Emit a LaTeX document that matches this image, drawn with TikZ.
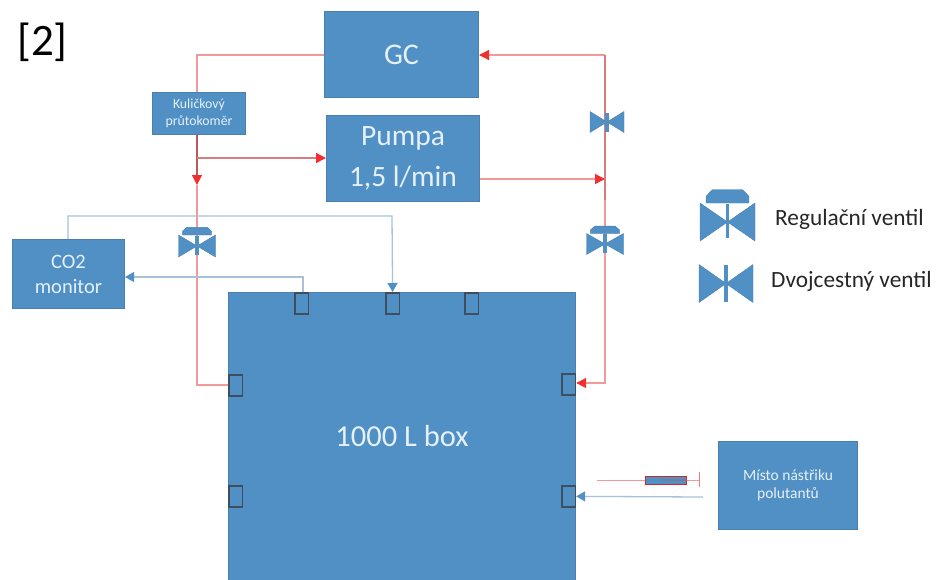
\documentclass[tikz,border=0pt]{standalone}
\usepackage{fontspec}
\setmainfont{Carlito}
\usetikzlibrary{arrows.meta}
\definecolor{bfill}{HTML}{5090C5}
\definecolor{bedge}{HTML}{4A80AE}
\definecolor{redl}{HTML}{F29A9A}
\definecolor{redd}{HTML}{B85A5A}
\definecolor{redm}{HTML}{D97B7B}
\definecolor{redh}{HTML}{F03030}
\definecolor{bluel}{HTML}{A8C0D8}
\definecolor{txtw}{HTML}{E6F0F8}
\definecolor{portc}{HTML}{3E4E5E}
\newcommand{\fs}[2]{\fontsize{#1}{#2}\selectfont}
\tikzset{
  x=1pt,y=-1pt,
  block/.style={draw=bedge,line width=1pt,fill=bfill,text=txtw,align=center,inner sep=0pt,anchor=north west},
  port/.style={draw=portc,line width=1.7pt,fill=none,inner sep=0pt,anchor=north west,minimum width=13.5pt,minimum height=21pt},
  redline/.style={draw=redl,line width=1.3pt},
  darkline/.style={draw=redd,line width=1.3pt},
  midline/.style={draw=redm,line width=1.4pt},
  blueline/.style={draw=bluel,line width=1.3pt},
  redarrow/.style={-{Triangle[length=10pt,width=10pt,color=redh]}},
  bluearrow/.style={-{Triangle[length=9pt,width=10pt,color=bfill]}},
  legend/.style={text=black!85,inner sep=0pt,anchor=west},
  valveshape/.style={fill=bfill,draw=bedge,line width=.4pt},
  pics/wings/.style n args={3}{code={
    \path[valveshape] (-#1,-#2) -- (0,0) -- (-#1,#2) -- cycle;
    \path[valveshape] (#1,-#2) -- (0,0) -- (#1,#2) -- cycle;
    \fill[bfill] (-1.7,-#3) rectangle (1.7,#3);
  }},
  pics/capped/.style n args={2}{code={
    \path[valveshape] (-#1,-#2) -- (0,0) -- (-#1,#2) -- cycle;
    \path[valveshape] (#1,-#2) -- (0,0) -- (#1,#2) -- cycle;
    \fill[bfill] (-1.7,-#2*.95) rectangle (1.7,#2*.85);
    \path[valveshape] (-#1*.78,-#2*1.0) -- (-#1*.78,-#2*1.35) -- (-#1*.55,-#2*1.7) -- (#1*.55,-#2*1.7) -- (#1*.78,-#2*1.35) -- (#1*.78,-#2*1.0) -- cycle;
  }}
}
\begin{document}
\begin{tikzpicture}
\useasboundingbox (0,0) rectangle (937,579);
\node[text=black,inner sep=0pt,anchor=center,font=\fs{45}{50}] (ref) at (42.5,42) {[2]};
% blocks
\node[block,minimum width=154pt,minimum height=86pt,font=\fs{30}{36}] (gc) at (324,11) {GC};
\node[block,minimum width=153pt,minimum height=86pt,font=\fs{29.5}{41}] (pump) at (326,115) {Pumpa\\1,5 l/min};
\node[block,minimum width=93pt,minimum height=42pt,font=\fs{13.8}{16.5}] (flow) at (152,92) {Kuličkový\\průtokoměr};
\node[block,minimum width=112pt,minimum height=69pt,font=\fs{20.5}{25}] (co2) at (12,239) {CO2\\monitor};
\path[fill=bfill,draw=bedge,line width=.8pt] (228,292) rectangle (575,582);
\node[text=txtw,inner sep=0pt,font=\fs{30.5}{36}] (box) at (402,436) {1000 L box};
\node[block,minimum width=139pt,minimum height=88pt,font=\fs{15.5}{18.5}] (inj) at (718,441) {Místo nástřiku\\polutantů};
% ports
\node[port] (pt1) at (294,292) {};
\node[port] (pt2) at (385,292) {};
\node[port] (pt3) at (464,292) {};
\node[port] (pl1) at (228,374) {};
\node[port] (pl2) at (228,485) {};
\node[port] (pr1) at (561,373) {};
\node[port] (pr2) at (561,485) {};
% junctions
\coordinate (j1) at (197,158);
\coordinate (j2) at (197,185);
\coordinate (j3) at (605,200);
\coordinate (j4) at (605,179);
\coordinate (jg) at (605,55);
\coordinate (ja) at (197,55);
\coordinate (jb) at (197,385);
\coordinate (jc) at (605,383);
\coordinate (bb1) at (68,216);
\coordinate (bb2) at (392,216);
\coordinate (bb3) at (303,277);
\coordinate (src) at (703,497);
% red lines
\draw[redline] (gc.west |- ja) -- (ja) -- (flow.north -| ja);
\draw[darkline] (flow.south -| j1) -- (j1);
\draw[darkline,redarrow] (j1) -- (j2);
\draw[redline] (j2) -- (jb) -- (pl1.west |- jb);
\draw[midline,redarrow] (j1) -- (pump.west |- j1);
\draw[redline,redarrow] (pump.east |- j4) -- (j4);
\draw[redline,redarrow] (jg) -- (gc.east |- jg);
\draw[midline] (jg) -- (j3);
\draw[redline,redarrow] (j3) -- (jc) -- (pr1.east |- jc);
% blue lines
\draw[blueline,bluearrow] (co2.north -| bb1) -- (bb1) -- (bb2) -- (pt2.north);
\draw[blueline,bluearrow] (pt1.north -| bb3) -- (bb3) -- (co2.east |- bb3);
\draw[blueline,bluearrow] (src) -- (pr2.east);
% syringe
\coordinate (sa) at (597,480);
\coordinate (sb) at (699,480);
\coordinate (sc) at (699,472);
\coordinate (sd) at (699,487);
\coordinate (se) at (660,480);
\draw[redl,line width=.9pt] (sa) -- (sb);
\draw[redl!80!red,line width=.9pt] (sc) -- (sd);
\node[draw=redh!85!black,line width=1.2pt,fill=bfill,inner sep=0pt,anchor=north west,minimum width=41pt,minimum height=8pt] (barrel) at (645,475.5) {};
\draw[redd!80!bfill,line width=.9pt] (se) -- (barrel.east);
% valves
\pic at (197,246) {capped={18.5}{11}};
\pic at (605,244) {capped={18.5}{10.5}};
\pic at (607,122) {wings={17}{10.5}{9.5}};
\pic at (727.5,222) {capped={27.5}{19}};
\pic at (726,283.5) {wings={27}{19}{18.5}};
% legend
\node[legend,font=\fs{23.3}{28}] (lr) at (775,219) {Regulační ventil};
\node[legend,font=\fs{23.3}{28}] (ld) at (771,281) {Dvojcestný ventil};
\end{tikzpicture}
\end{document}
